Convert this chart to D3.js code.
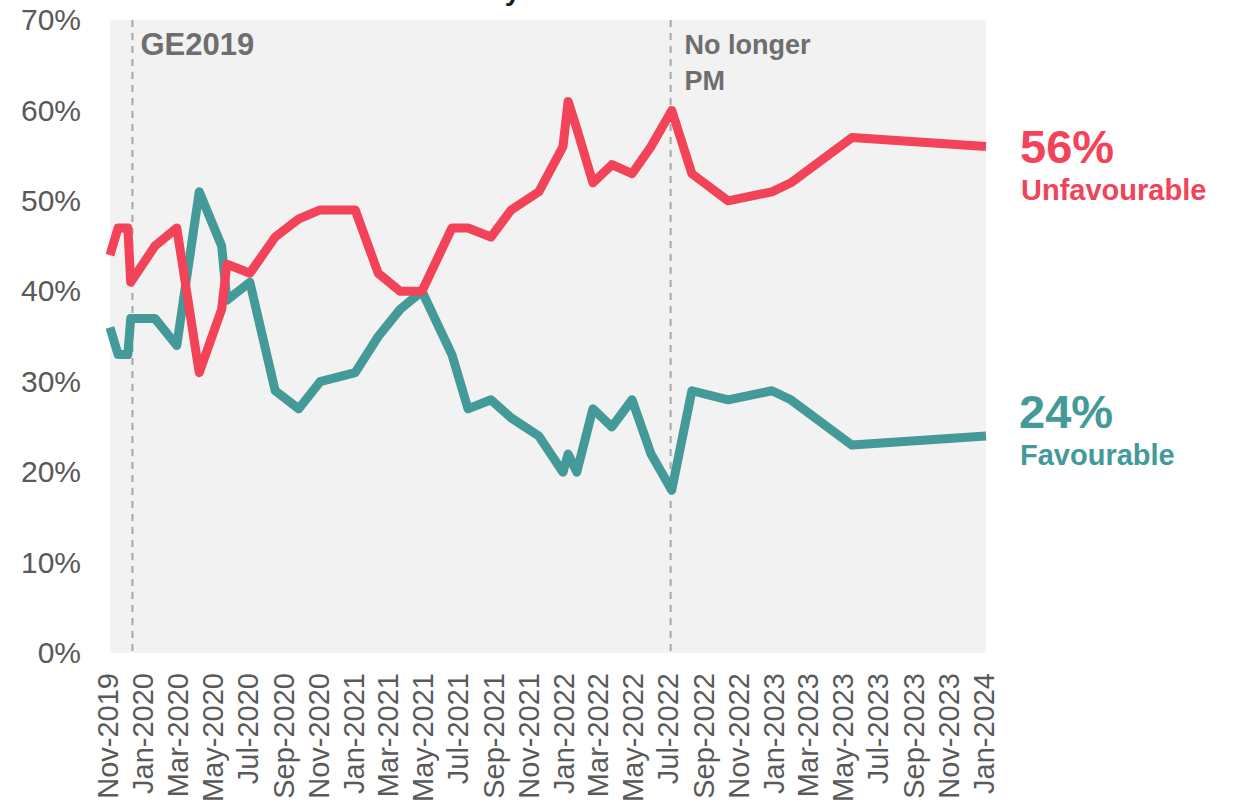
<!DOCTYPE html>
<html>
<head>
<meta charset="utf-8">
<script src="https://cdn.jsdelivr.net/npm/d3@7"></script>
<style>
  html, body { margin: 0; padding: 0; background: #ffffff; }
  svg { display: block; font-family: "Liberation Sans", Arial, sans-serif; }
</style>
</head>
<body>
<svg id="chart" width="1234" height="812"></svg>
<script>
// ---- data ----
const pollDates = ["2019-11-01","2019-11-15","2019-12-02","2019-12-07","2020-01-18","2020-02-25","2020-04-04","2020-05-13","2020-05-22","2020-07-01","2020-08-14","2020-09-24","2020-10-31","2020-12-31","2021-02-09","2021-03-19","2021-04-26","2021-06-17","2021-07-15","2021-08-24","2021-09-28","2021-11-15","2021-12-27","2022-01-05","2022-01-20","2022-02-17","2022-03-22","2022-04-26","2022-05-29","2022-07-04","2022-08-08","2022-10-10","2022-12-25","2023-01-27","2023-05-13","2024-01-01"];
const unfavourable = [44,47,47,41,45,47,31,38,43,42,46,48,49,49,42,40,40,47,47,46,49,51,56,61,58,52,54,53,56,60,53,50,51,52,57,56];
const favourable   = [36,33,33,37,37,34,51,45,39,41,29,27,30,31,35,38,40,33,27,28,26,24,20,22,20,27,25,28,22,18,29,28,29,28,23,24];
const tickDates  = ["2019-11-01","2020-01-01","2020-03-01","2020-05-01","2020-07-01","2020-09-01","2020-11-01","2021-01-01","2021-03-01","2021-05-01","2021-07-01","2021-09-01","2021-11-01","2022-01-01","2022-03-01","2022-05-01","2022-07-01","2022-09-01","2022-11-01","2023-01-01","2023-03-01","2023-05-01","2023-07-01","2023-09-01","2023-11-01","2024-01-01"];
const tickLabels = ["Nov-2019","Jan-2020","Mar-2020","May-2020","Jul-2020","Sep-2020","Nov-2020","Jan-2021","Mar-2021","May-2021","Jul-2021","Sep-2021","Nov-2021","Jan-2022","Mar-2022","May-2022","Jul-2022","Sep-2022","Nov-2022","Jan-2023","Mar-2023","May-2023","Jul-2023","Sep-2023","Nov-2023","Jan-2024"];
const yTicks = [0,10,20,30,40,50,60,70];
const eventDates = ["2019-12-10","2022-07-02"];
const eventLabels = [["GE2019"],["No longer","PM"]];
const seriesNames = ["Unfavourable","Favourable"];
const titleText = "Boris Johnson favourability";

// ---- layout ----
const svg = d3.select("#chart");
const parse = d3.utcParse("%Y-%m-%d");
const mLeft = 110, mRight = 986, mTop = 20, mBottom = 653;
const x = d3.scaleUtc().domain([parse("2019-11-01"), parse("2024-01-01")]).range([mLeft, mRight]);
const y = d3.scaleLinear().domain([0, 70]).range([mBottom, mTop]);
const RED = "#F24358", TEAL = "#439A98", GREY_TXT = "#595959";

// title (cut off at top edge, as in reference)
svg.append("text").attr("x", 150).attr("y", 0)
  .attr("font-size", 28).attr("font-weight", "bold").attr("fill", "#1a1a1a")
  .text(titleText);

// plot background
svg.append("rect").attr("x", mLeft).attr("y", mTop)
  .attr("width", mRight - mLeft).attr("height", mBottom - mTop).attr("fill", "#F2F2F2");

// y axis
const yAxis = d3.axisLeft(y).tickValues(yTicks).tickFormat(d => d + "%").tickSize(0).tickPadding(29);
const gy = svg.append("g").attr("transform", `translate(${mLeft},0)`).call(yAxis);
gy.select(".domain").remove();
gy.selectAll("text").attr("font-size", 30).attr("fill", GREY_TXT)
  .attr("font-family", "'Liberation Sans', Arial, sans-serif");

// x axis
const tickMap = new Map(tickDates.map((d, i) => [+parse(d), tickLabels[i]]));
const xAxis = d3.axisBottom(x).tickValues(tickDates.map(parse))
  .tickFormat(d => tickMap.get(+d)).tickSize(0);
const gx = svg.append("g").attr("transform", `translate(0,${mBottom})`).call(xAxis);
gx.select(".domain").remove();
gx.selectAll("text")
  .attr("font-size", 29).attr("fill", GREY_TXT)
  .attr("font-family", "'Liberation Sans', Arial, sans-serif")
  .attr("text-anchor", "end")
  .attr("transform", "rotate(-90)")
  .attr("x", -20).attr("y", 0).attr("dy", "0.27em");

// event lines and labels
eventDates.forEach((d) => {
  const ex = x(parse(d));
  svg.append("line").attr("x1", ex).attr("x2", ex).attr("y1", mTop).attr("y2", mBottom + 2)
    .attr("stroke", "#A6A6A6").attr("stroke-width", 2).attr("stroke-dasharray", "7,6");
});
svg.append("text").attr("x", x(parse(eventDates[0])) + 8).attr("y", 55)
  .attr("font-size", 31).attr("font-weight", "bold").attr("fill", "#6E6E6E")
  .text(eventLabels[0][0]);
const pm = svg.append("text").attr("x", x(parse(eventDates[1])) + 14).attr("y", 54)
  .attr("font-size", 27).attr("font-weight", "bold").attr("fill", "#6E6E6E");
eventLabels[1].forEach((t, i) => {
  pm.append("tspan").attr("x", x(parse(eventDates[1])) + 14).attr("dy", i === 0 ? 0 : 36).text(t);
});

// lines
const pts = (vals) => pollDates.map((d, i) => ({ date: parse(d), v: vals[i] }));
const line = d3.line().x(d => x(d.date)).y(d => y(d.v));
svg.append("path").datum(pts(favourable)).attr("d", line)
  .attr("fill", "none").attr("stroke", TEAL).attr("stroke-width", 9)
  .attr("stroke-linejoin", "round").attr("stroke-linecap", "butt");
svg.append("path").datum(pts(unfavourable)).attr("d", line)
  .attr("fill", "none").attr("stroke", RED).attr("stroke-width", 9)
  .attr("stroke-linejoin", "round").attr("stroke-linecap", "butt");

// end labels
const lastU = unfavourable[unfavourable.length - 1];
const lastF = favourable[favourable.length - 1];
svg.append("text").attr("x", 1020).attr("y", 163).attr("font-size", 47).attr("font-weight", "bold")
  .attr("fill", RED).text(lastU + "%");
svg.append("text").attr("x", 1021).attr("y", 200).attr("font-size", 29).attr("font-weight", "bold")
  .attr("fill", RED).text(seriesNames[0]);
svg.append("text").attr("x", 1019).attr("y", 428).attr("font-size", 47).attr("font-weight", "bold")
  .attr("fill", TEAL).text(lastF + "%");
svg.append("text").attr("x", 1020).attr("y", 465).attr("font-size", 29).attr("font-weight", "bold")
  .attr("fill", TEAL).text(seriesNames[1]);
</script>
</body>
</html>
